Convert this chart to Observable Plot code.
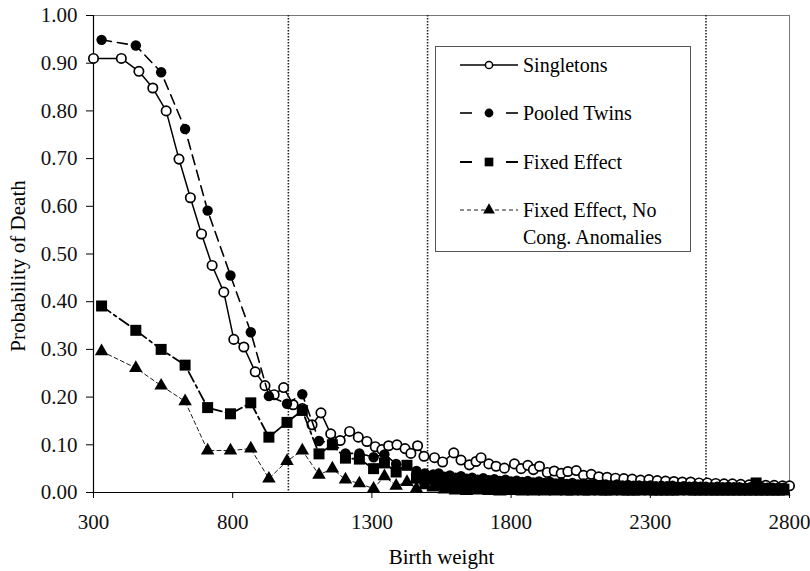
<!DOCTYPE html>
<html><head><meta charset="utf-8">
<script src="https://cdn.jsdelivr.net/npm/d3@7"></script>
<script src="https://cdn.jsdelivr.net/npm/@observablehq/plot@0.6"></script>
<style>body{margin:0;background:#fff} #chart{width:810px;height:571px}</style>
</head><body><div id="chart"></div>
<script>
// ---- data ----
const singletonWeights = [300,400,463,513,561,607,648,688,726,768,804,840,881,916,949,983,1017,1050,1085,1117,1152,1186,1220,1251,1282,1312,1336,1360,1390,1419,1440,1464,1487,1525,1554,1594,1620,1650,1674,1692,1720,1746,1776,1812,1836,1860,1880,1902,1930,1955,1980,2004,2034,2060,2088,2115,2145,2175,2205,2235,2265,2295,2325,2355,2385,2415,2445,2475,2505,2535,2565,2595,2625,2655,2685,2715,2745,2775,2800];
const singletonProb = [.910,.910,.883,.848,.800,.699,.618,.542,.476,.420,.321,.305,.253,.224,.205,.220,.184,.176,.142,.167,.123,.109,.128,.116,.107,.096,.090,.098,.100,.092,.082,.098,.076,.073,.064,.083,.068,.058,.065,.073,.060,.055,.051,.060,.050,.057,.048,.055,.042,.045,.040,.044,.046,.036,.038,.033,.032,.030,.029,.028,.026,.027,.025,.024,.023,.022,.022,.020,.020,.019,.018,.018,.017,.016,.016,.015,.015,.014,.014];

const twinWeights = [329,452,543,629,710,792,865,930,995,1050,1110,1158,1205,1255,1306,1345,1387,1426,1460,1490,
  1520,1540,1560,1580,1600,1620,1640,1660,1680,1700,1720,1740,1760,1780,1800,1820,1840,1860,1880,1900,
  1920,1940,1960,1980,2000,2020,2040,2060,2080,2100,2120,2140,2160,2180,2200,2220,2240,2260,2280,2300,
  2320,2340,2360,2380,2400,2420,2440,2460,2480,2500,2520,2540,2560,2580,2600,2620,2640,2660,2680,2700,
  2720,2740,2760,2780];
const pooledTwinsProb = [.949,.937,.881,.762,.591,.455,.336,.202,.186,.206,.108,.104,.082,.082,.074,.080,.060,.058,.045,.040,
  .038,.040,.033,.036,.031,.034,.029,.031,.027,.030,.026,.028,.024,.027,.023,.025,.022,.024,.021,.023,
  .020,.022,.019,.021,.018,.020,.017,.019,.017,.018,.016,.017,.015,.017,.015,.016,.014,.015,.014,.015,
  .013,.014,.013,.014,.012,.013,.012,.013,.012,.012,.011,.012,.011,.012,.011,.011,.010,.011,.010,.011,
  .010,.010,.010,.010];
const fixedEffectProb = [.391,.340,.300,.267,.178,.165,.188,.116,.147,.172,.081,.100,.072,.070,.050,.062,.043,.057,.030,.026,
  .028,.024,.030,.022,.026,.020,.024,.019,.022,.018,.021,.017,.020,.016,.019,.015,.018,.014,.017,.013,
  .016,.013,.015,.012,.014,.011,.013,.011,.012,.010,.012,.010,.011,.009,.011,.009,.010,.008,.010,.008,
  .009,.008,.009,.007,.009,.007,.008,.007,.008,.007,.008,.006,.007,.006,.007,.007,.006,.007,.020,.006,
  .007,.006,.006,.007];
const noCongProb = [.296,.261,.224,.191,.088,.088,.092,.029,.066,.088,.037,.050,.027,.019,.008,.034,.014,.022,.008,.015,
  .010,.013,.006,.009,.004,.007,.003,.006,.004,.005,.003,.005,.002,.004,.003,.004,.002,.003,.002,.004,
  .002,.003,.002,.003,.002,.002,.003,.002,.002,.003,.002,.002,.002,.003,.002,.002,.002,.002,.003,.002,
  .002,.002,.002,.002,.002,.003,.002,.002,.002,.002,.002,.002,.002,.002,.002,.002,.002,.002,.002,.002,
  .002,.002,.002,.002];

const xTicks = [300,800,1300,1800,2300,2800];
const yTicks = [0,0.1,0.2,0.3,0.4,0.5,0.6,0.7,0.8,0.9,1.0];
const refLines = [1000,1500,2500];
const seriesNames = ["Singletons","Pooled Twins","Fixed Effect","Fixed Effect, No|Cong. Anomalies"];
const xTitle = "Birth weight";
const yTitle = "Probability of Death";

// ---- tables ----
const singletons = singletonWeights.map((w,i)=>({w, p: singletonProb[i]}));
const twins = twinWeights.map((w,i)=>({w, pooled: pooledTwinsProb[i], fixed: fixedEffectProb[i], noCong: noCongProb[i]}));

const FONT = "'Liberation Serif','Times New Roman',serif";

const plot = Plot.plot({
  width: 810, height: 571,
  marginLeft: 93, marginRight: 21, marginTop: 15, marginBottom: 79,
  style: {fontFamily: FONT, fontSize: "21px", color: "#111", background: "#fff"},
  x: {domain: [300, 2800]},
  y: {domain: [0, 1]},
  marks: [
    Plot.frame({stroke: "#777", strokeWidth: 1}),
    Plot.ruleX(refLines, {stroke: "#222", strokeWidth: 1.6, strokeDasharray: "1.5 1.5"}),
    Plot.axisX({ticks: xTicks, tickSize: 6, tickPadding: 16, tickFormat: d3.format("d"), label: null, fontSize: 21, stroke: "#000"}),
    Plot.axisY({ticks: yTicks, tickSize: 7, tickPadding: 9, tickFormat: d3.format(".2f"), label: null, fontSize: 21, stroke: "#000"}),
    Plot.ruleX([300], {stroke: "#000", strokeWidth: 1.2}),
    Plot.ruleY([0], {stroke: "#000", strokeWidth: 1.2}),
    Plot.line(singletons, {x: "w", y: "p", stroke: "#000", strokeWidth: 1.5}),
    Plot.dot(singletons, {x: "w", y: "p", r: 4.7, fill: "#fff", stroke: "#000", strokeWidth: 1.7}),
    Plot.line(twins, {x: "w", y: "pooled", stroke: "#000", strokeWidth: 1.6, strokeDasharray: "10 6"}),
    Plot.line(twins, {x: "w", y: "fixed", stroke: "#000", strokeWidth: 1.8, strokeDasharray: "11 4 3 4"}),
    Plot.line(twins, {x: "w", y: "noCong", stroke: "#000", strokeWidth: 0.9, strokeDasharray: "4 3"}),
    Plot.dot(twins, {x: "w", y: "pooled", r: 5.2, fill: "#000", symbol: "circle"}),
    Plot.dot(twins, {x: "w", y: "fixed", r: 6.2, fill: "#000", symbol: "square"}),
    Plot.dot(twins, {x: "w", y: "noCong", r: 5.0, fill: "#000", symbol: "triangle"}),
    Plot.text([xTitle], {text: d => d, frameAnchor: "bottom", lineAnchor: "middle", textAnchor: "middle", dy: 65, fontSize: 21, fill: "#000"}),
    Plot.text([yTitle], {text: d => d, frameAnchor: "left", lineAnchor: "middle", textAnchor: "middle", rotate: -90, dx: -75, dy: 12, fontSize: 21, fill: "#000"})
  ]
});

// ---- legend (inside the plot area) ----
const svg = d3.select(plot);
const lg = svg.append("g").style("font-family", FONT).style("font-size", "20px").attr("fill", "#000");
lg.append("rect").attr("x", 435.5).attr("y", 46.5).attr("width", 255).attr("height", 205)
  .attr("fill", "#fff").attr("stroke", "#555").attr("stroke-width", 1);
const rows = [65, 113, 162, 210];
const x0 = 460, x1 = 518, xm = 489, tx = 523;
// Singletons
lg.append("line").attr("x1", x0).attr("x2", x1).attr("y1", rows[0]).attr("y2", rows[0]).attr("stroke", "#000").attr("stroke-width", 1.5);
lg.append("circle").attr("cx", xm).attr("cy", rows[0]).attr("r", 3.6).attr("fill", "#fff").attr("stroke", "#000").attr("stroke-width", 1.5);
// Pooled twins
[[x0, x0+12],[x1-12, x1]].forEach(([a,b]) => lg.append("line").attr("x1", a).attr("x2", b).attr("y1", rows[1]).attr("y2", rows[1]).attr("stroke", "#000").attr("stroke-width", 1.6));
lg.append("circle").attr("cx", xm).attr("cy", rows[1]).attr("r", 4.4).attr("fill", "#000");
// Fixed effect
[[x0, x0+12],[x1-12, x1]].forEach(([a,b]) => lg.append("line").attr("x1", a).attr("x2", b).attr("y1", rows[2]).attr("y2", rows[2]).attr("stroke", "#000").attr("stroke-width", 2));
lg.append("path").attr("d", d3.symbol(d3.symbolSquare, 75)()).attr("transform", `translate(${xm},${rows[2]})`).attr("fill", "#000");
// FE no cong
lg.append("line").attr("x1", x0).attr("x2", x1).attr("y1", rows[3]).attr("y2", rows[3]).attr("stroke", "#000").attr("stroke-width", 0.9).attr("stroke-dasharray", "4 3");
lg.append("path").attr("d", d3.symbol(d3.symbolTriangle, 60)()).attr("transform", `translate(${xm},${rows[3]})`).attr("fill", "#000");
seriesNames.forEach((name, i) => {
  const parts = name.split("|");
  parts.forEach((p, j) => {
    lg.append("text").attr("x", tx).attr("y", rows[i] + j * 27).attr("dy", "0.35em")
      .style("text-anchor", "start").style("font-size", "20px").style("font-family", FONT).text(p);
  });
});

document.getElementById("chart").appendChild(plot);
</script>
</body></html>
